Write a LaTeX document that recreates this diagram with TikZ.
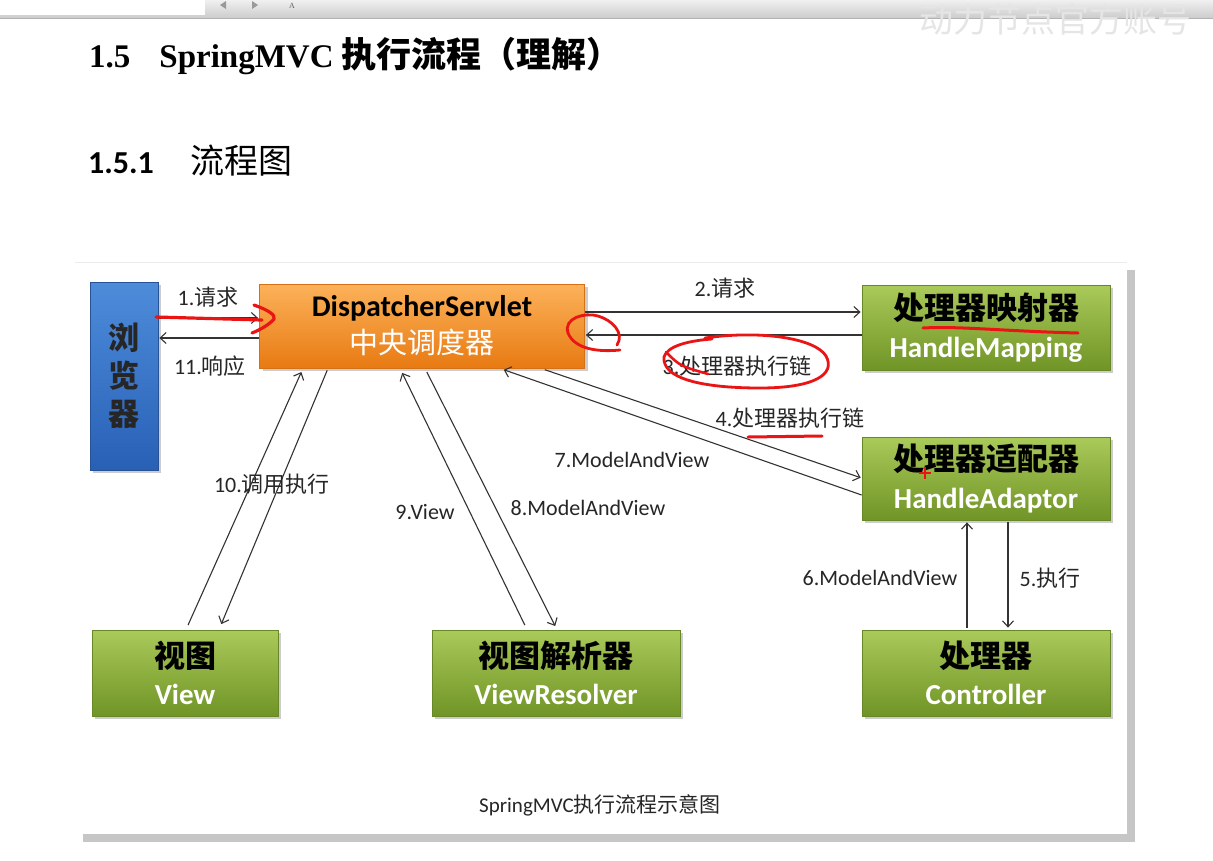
\documentclass[tikz,border=0pt]{standalone}
\usepackage{fontspec}
\setmainfont{Liberation Serif}
\newfontfamily\zhfont{Noto Sans CJK SC}
\newfontfamily\calfont{Carlito}
\usetikzlibrary{arrows.meta,shadows,calc}
\definecolor{gtop}{RGB}{170,202,90}
\definecolor{gbot}{RGB}{112,148,38}
\definecolor{gborder}{RGB}{104,136,40}
\definecolor{otop}{RGB}{252,178,90}
\definecolor{obot}{RGB}{232,122,18}
\definecolor{oborder}{RGB}{214,112,22}
\definecolor{btop}{RGB}{78,140,218}
\definecolor{bbot}{RGB}{40,96,182}
\definecolor{bborder}{RGB}{40,82,150}
\definecolor{redpen}{RGB}{235,20,20}
\newcommand\lb[2]{{\calfont #1}{\zhfont #2}}
\begin{document}
\begin{tikzpicture}[x=1pt,y=-1pt,
  arr/.style={draw=black!80, line width=1.1pt, -{Straight Barb[length=6pt,width=11pt,line width=1.1pt]}, shorten >=1pt},
  boxbase/.style={rectangle, line width=0.8pt, inner sep=0pt, align=center,
    drop shadow={shadow xshift=3pt,shadow yshift=-3pt,opacity=.4}},
  gbox/.style={boxbase, draw=gborder, top color=gtop, bottom color=gbot},
  obox/.style={boxbase, draw=oborder, top color=otop, bottom color=obot},
  bbox/.style={boxbase, draw=bborder, top color=btop, bottom color=bbot},
  lab/.style={font=\calfont\fontsize{22}{24}\selectfont, text=black!85, inner sep=0pt},
  redmark/.style={draw=redpen, line width=3.2pt, line cap=round, line join=round},
]
\useasboundingbox (0,0) rectangle (1213,860);
% top tool bar
\fill[top color=black!6, bottom color=black!20] (0,0) rectangle (1213,18);
\draw[black!30, line width=0.8pt] (0,18) -- (1213,18);
\fill[white] (0,0) rectangle (205,15);
\fill[black!40] (226,1) -- (220,5) -- (226,9) -- cycle;
\fill[black!40] (252,1) -- (258,5) -- (252,9) -- cycle;
\node[font=\fontsize{8}{8}\selectfont, text=black!60, inner sep=0pt] (tb) at (292,6) {A};
\node[font=\zhfont\fontsize{34}{34}\selectfont, text=black!10, inner sep=0pt] (wm) at (1055,20) {动力节点官方账号};

% headings
\node[anchor=base west, inner sep=0pt, font=\bfseries\fontsize{33}{34}\selectfont] (h1) at (89,67)
  {1.5\hspace{29pt}SpringMVC\hspace{8pt}{\zhfont\fontsize{35}{36}\selectfont 执行流程（理解）}};
\node[anchor=base west, inner sep=0pt, font=\calfont\bfseries\fontsize{32}{34}\selectfont] (h2) at (88,173)
  {1.5.1\hspace{37pt}{\zhfont\mdseries\fontsize{34}{34}\selectfont 流程图}};

% frame
\node[draw=none, fill=white, minimum width=1052pt, minimum height=572pt, inner sep=0pt,
  drop shadow={shadow xshift=8pt,shadow yshift=-8pt,opacity=.45}] (frame) at (601,548) {};
\draw[black!8] (frame.north west) -- (frame.north east);

% boxes
\node[bbox, minimum width=68pt, minimum height=188pt,
  font=\zhfont\bfseries\fontsize{31}{38}\selectfont, text=black!85] (browser) at (124,376) {浏\\览\\器};
\node[obox, minimum width=325pt, minimum height=84pt, font=\fontsize{29}{37}\selectfont] (disp) at (422,326)
  {{\calfont\bfseries\fontsize{30}{37}\selectfont DispatcherServlet}\\
   {\zhfont\fontsize{29}{37}\selectfont\color{white}中央调度器}};
\node[gbox, minimum width=248pt, minimum height=85pt, font=\fontsize{30}{38}\selectfont] (hm) at (986,327.5)
  {{\zhfont\bfseries\fontsize{31}{38}\selectfont 处理器映射器}\\
   {\calfont\bfseries\fontsize{29}{38}\selectfont\color{white}HandleMapping}};
\node[gbox, minimum width=248pt, minimum height=83pt, font=\fontsize{30}{38}\selectfont] (ha) at (986,478.5)
  {{\zhfont\bfseries\fontsize{31}{38}\selectfont 处理器适配器}\\
   {\calfont\bfseries\fontsize{29}{38}\selectfont\color{white}HandleAdaptor}};
\node[gbox, minimum width=248pt, minimum height=86pt, font=\fontsize{30}{37}\selectfont] (ctrl) at (986,673)
  {{\zhfont\bfseries\fontsize{31}{37}\selectfont 处理器}\\
   {\calfont\bfseries\fontsize{29}{37}\selectfont\color{white}Controller}};
\node[gbox, minimum width=186pt, minimum height=86pt, font=\fontsize{30}{37}\selectfont] (view) at (185,673)
  {{\zhfont\bfseries\fontsize{31}{37}\selectfont 视图}\\
   {\calfont\bfseries\fontsize{29}{37}\selectfont\color{white}View}};
\node[gbox, minimum width=248pt, minimum height=86pt, font=\fontsize{30}{37}\selectfont] (vr) at (556,673)
  {{\zhfont\bfseries\fontsize{31}{37}\selectfont 视图解析器}\\
   {\calfont\bfseries\fontsize{29}{37}\selectfont\color{white}ViewResolver}};

% connectors
\draw[arr] (browser.east |- 0,318) -- (disp.west |- 0,318);
\draw[arr] (disp.west |- 0,338) -- (browser.east |- 0,338);
\draw[arr] (disp.east |- 0,312) -- (hm.west |- 0,312);
\draw[arr] (hm.west |- 0,335) -- (disp.east |- 0,335);
\draw[arr, shorten <=4pt] (disp.south -| 541,0) -- (ha.west |- 0,478);
\draw[arr, shorten >=4pt] (ha.west |- 0,495) -- (disp.south -| 500,0);
\draw[arr, shorten <=5pt, shorten >=4pt] (view.north -| 186,0) -- (disp.south -| 303,0);
\draw[arr, shorten <=2pt, shorten >=6pt] (disp.south -| 328,0) -- (view.north -| 219,0);
\draw[arr, shorten <=5pt, shorten >=5pt] (vr.north -| 527,0) -- (disp.south -| 400,0);
\draw[arr, shorten <=4pt, shorten >=4pt] (disp.south -| 425,0) -- (vr.north -| 557,0);
\draw[arr, shorten <=2pt, shorten >=2pt] (ctrl.north -| 967,0) -- (ha.south -| 967,0);
\draw[arr, shorten <=2pt, shorten >=2pt] (ha.south -| 1008,0) -- (ctrl.north -| 1008,0);

% labels
\node[lab] (l1) at (208,297) {\lb{1.}{请求}};
\node[lab] (l11) at (210,366) {\lb{11.}{响应}};
\node[lab] (l2) at (725,288) {\lb{2.}{请求}};
\node[lab] (l3) at (737,366) {\lb{3.}{处理器执行链}};
\node[lab] (l4) at (790,418) {\lb{4.}{处理器执行链}};
\node[lab] (l7) at (632,460) {7.ModelAndView};
\node[lab] (l10) at (272,484) {\lb{10.}{调用执行}};
\node[lab] (l9) at (425,512) {9.View};
\node[lab] (l8) at (588,508) {8.ModelAndView};
\node[lab] (l6) at (880,578) {6.ModelAndView};
\node[lab] (l5) at (1050,578) {\lb{5.}{执行}};
\node[lab, font=\calfont\fontsize{21}{24}\selectfont] (cap) at (600,805) {SpringMVC{\zhfont 执行流程示意图}};

% red hand annotations
\draw[redmark] (156,317) -- (262,320);
\draw[redmark] (254,305) .. controls (268,310) and (276,315) .. (274,319) .. controls (270,324) and (260,330) .. (252,333);
\draw[redmark, line width=2.8pt] (620,350) .. controls (600,352) and (575,350) .. (568,333)
  .. controls (563,318) and (585,312) .. (598,316) .. controls (612,320) and (625,333) .. (617,345);
\draw[redmark, line width=2.8pt] (705,338) .. controls (760,330) and (815,338) .. (826,356)
  .. controls (836,374) and (815,388) .. (760,388) .. controls (700,388) and (662,378) .. (664,357)
  .. controls (667,347) and (685,341) .. (712,339);
\draw[redmark, line width=2.6pt] (666,352) .. controls (680,366) .. (708,374);
\draw[redmark, line width=3pt] (923,328) .. controls (960,326) and (1000,331) .. (1078,333);
\draw[redmark, line width=3pt] (748,437) -- (822,436);
\draw[redmark, line width=2pt, line cap=butt] (919,473) -- (931,473) (925,467) -- (925,479);
\end{tikzpicture}
\end{document}
